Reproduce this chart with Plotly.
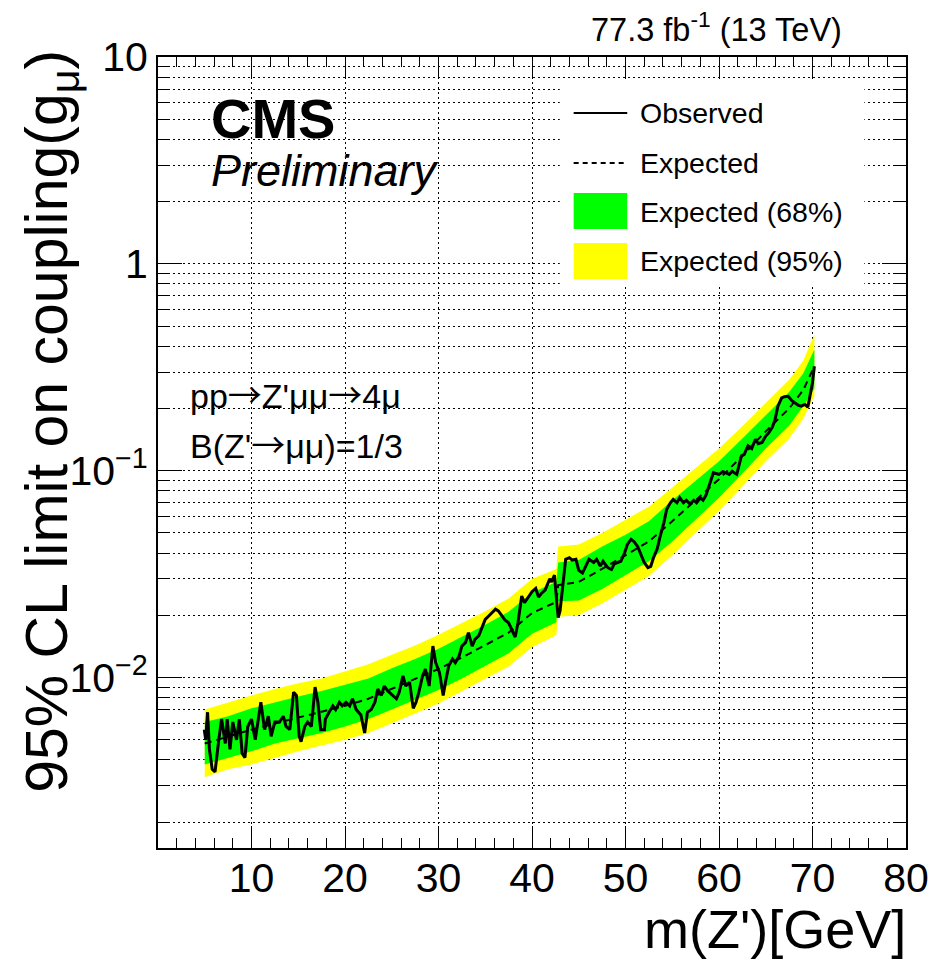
import plotly.graph_objects as go

# ---------------- data ----------------
band_mass = [5, 7.5, 10, 12.5, 15, 17.5, 20, 22.5, 25, 27.5, 30, 32.5, 35, 37.5, 40,
             42.6, 42.8, 45, 47.5, 50, 52.5, 55, 57.5, 60, 62.5, 65, 67.5, 69, 70.2]
expected = [0.0048, 0.0052, 0.0056, 0.0060, 0.0064, 0.0068, 0.0073, 0.0079, 0.0088, 0.0098,
            0.0110, 0.0125, 0.0143, 0.0165, 0.0205, 0.0232, 0.0280, 0.0290, 0.0335, 0.0390,
            0.0455, 0.0570, 0.0720, 0.0910, 0.118, 0.155, 0.200, 0.245, 0.320]
exp_95_hi = [0.0070, 0.0076, 0.0082, 0.0088, 0.0094, 0.0099, 0.0107, 0.0116, 0.0129, 0.0143,
             0.0161, 0.0183, 0.0209, 0.0241, 0.0300, 0.0335, 0.0430, 0.0440, 0.050, 0.058,
             0.067, 0.083, 0.103, 0.128, 0.164, 0.213, 0.275, 0.34, 0.455]
exp_68_hi = [0.0061, 0.0065, 0.0071, 0.0076, 0.0081, 0.0086, 0.0092, 0.0099, 0.0111, 0.0123,
             0.0138, 0.0157, 0.0180, 0.0208, 0.0258, 0.0290, 0.0360, 0.0370, 0.043, 0.049,
             0.057, 0.072, 0.089, 0.111, 0.143, 0.186, 0.240, 0.295, 0.385]
exp_68_lo = [0.0038, 0.0041, 0.0044, 0.0048, 0.0051, 0.0054, 0.0058, 0.0063, 0.0070, 0.0078,
             0.0087, 0.0099, 0.0114, 0.0131, 0.0163, 0.0185, 0.0234, 0.0236, 0.0268, 0.0312,
             0.0365, 0.0455, 0.058, 0.074, 0.097, 0.128, 0.165, 0.205, 0.250]
exp_95_lo = [0.0033, 0.0036, 0.0038, 0.0041, 0.0044, 0.0047, 0.0050, 0.0054, 0.0060, 0.0067,
             0.0075, 0.0086, 0.0098, 0.0113, 0.0140, 0.0160, 0.0197, 0.0200, 0.0228, 0.0266,
             0.0310, 0.0390, 0.050, 0.064, 0.084, 0.111, 0.143, 0.178, 0.230]

obs_mass = [4.95, 5.1, 5.3, 5.5, 5.8, 6.1, 6.5, 6.8, 7.2, 7.4, 7.7, 8.0, 8.4, 8.7, 9.0, 9.3,
            9.6, 10.0, 10.4, 10.7, 11.0, 11.4, 11.8, 12.1, 12.5, 13.0, 13.4, 13.7, 14.1, 14.5,
            14.8, 15.1, 15.3, 15.7, 16.0, 16.4, 16.8, 17.1, 17.4, 17.8, 17.9, 18.3, 18.7, 19.0,
            19.4, 19.7, 20.1, 20.5, 20.8, 21.2, 21.7, 22.1, 22.4, 22.8, 23.2, 23.5, 23.9, 24.2,
            24.6, 25.1, 25.5, 25.8, 26.2, 26.5, 26.9, 27.3, 27.6, 27.9, 28.3, 28.6, 29.0, 29.4,
            29.7, 30.1, 30.5, 30.8, 31.1, 31.5, 31.8, 32.2, 32.5, 32.9, 33.2, 33.6, 33.9, 34.3,
            34.7, 35.0, 35.4, 35.7, 36.1, 36.4, 36.8, 37.1, 37.5, 37.8, 38.2, 38.5, 38.9, 39.2,
            39.5, 40.0, 40.4, 40.7, 41.0, 41.4, 41.9, 42.1, 42.4, 42.6, 42.8, 43.0, 43.3, 43.6,
            44.0, 44.3, 44.7, 45.0, 45.4, 45.7, 46.1, 46.6, 46.9, 47.3, 47.6, 48.1, 48.5, 48.8,
            49.2, 49.5, 49.9, 50.2, 50.6, 50.9, 51.3, 51.6, 52.0, 52.4, 52.7, 53.0, 53.4, 53.7,
            54.1, 54.4, 54.8, 55.1, 55.5, 55.8, 56.2, 56.5, 56.9, 57.3, 57.6, 58.0, 58.3, 58.6,
            58.9, 59.4, 60.0, 60.4, 60.7, 61.1, 61.4, 61.9, 62.4, 62.7, 63.1, 63.5, 63.9, 64.2,
            64.6, 65.0, 65.3, 65.7, 66.0, 66.3, 66.7, 67.0, 67.4, 67.8, 68.1, 68.5, 68.8, 69.2,
            69.5, 69.8, 70.0, 70.2]
observed = [0.0056, 0.0050, 0.0068, 0.0045, 0.0036, 0.0035, 0.0050, 0.0063, 0.0048, 0.0063,
            0.0045, 0.0061, 0.0050, 0.0063, 0.0043, 0.0041, 0.0058, 0.0063, 0.0050, 0.0061,
            0.0076, 0.0056, 0.0065, 0.0052, 0.0061, 0.0061, 0.0065, 0.0058, 0.0056, 0.0085,
            0.0082, 0.0052, 0.0049, 0.0058, 0.0061, 0.0058, 0.0090, 0.0076, 0.0056, 0.0056,
            0.0063, 0.0068, 0.0073, 0.0070, 0.0076, 0.0073, 0.0076, 0.0073, 0.0079, 0.0070,
            0.0066, 0.0054, 0.0068, 0.0070, 0.0076, 0.0088, 0.0082, 0.0091, 0.0086, 0.0082,
            0.0079, 0.0085, 0.0102, 0.0091, 0.0095, 0.0071, 0.0076, 0.0085, 0.0102, 0.0110,
            0.0091, 0.0142, 0.0118, 0.0106, 0.0082, 0.0098, 0.0114, 0.0123, 0.0118, 0.0127,
            0.0142, 0.0148, 0.0165, 0.0142, 0.0153, 0.0159, 0.0177, 0.0191, 0.0199, 0.0206,
            0.0214, 0.0210, 0.0199, 0.0190, 0.0184, 0.0171, 0.0157, 0.0184, 0.0248, 0.0230,
            0.0240, 0.0260, 0.0270, 0.0245, 0.0255, 0.0265, 0.0300, 0.0290, 0.0313, 0.0250,
            0.0195, 0.0210, 0.0290, 0.0373, 0.0380, 0.0370, 0.0373, 0.0330, 0.0320, 0.0340,
            0.0373, 0.0360, 0.0373, 0.0346, 0.0365, 0.0340, 0.0333, 0.0355, 0.0360, 0.0365,
            0.0400, 0.0440, 0.0466, 0.0455, 0.0430, 0.0400, 0.0360, 0.0340, 0.0345, 0.0380,
            0.0420, 0.0480, 0.0560, 0.0650, 0.0700, 0.0726, 0.0700, 0.0740, 0.0700, 0.0720,
            0.0690, 0.0720, 0.0700, 0.0740, 0.0720, 0.0760, 0.0843, 0.0978, 0.0960, 0.0990,
            0.0978, 0.0960, 0.0995, 0.0960, 0.118, 0.120, 0.132, 0.128, 0.142, 0.135,
            0.137, 0.147, 0.152, 0.162, 0.177, 0.205, 0.225, 0.228, 0.229, 0.218,
            0.213, 0.207, 0.205, 0.209, 0.203, 0.240, 0.266, 0.320]

x_tick_values = [10, 20, 30, 40, 50, 60, 70, 80]
x_tick_labels = ["10", "20", "30", "40", "50", "60", "70", "80"]
y_tick_values = [0.01, 0.1, 1, 10]
y_tick_labels = ["10<sup>\u22122</sup>", "10<sup>\u22121</sup>", "1", "10"]

# ---------------- figure ----------------
FONT = "Liberation Sans, Arial, Helvetica, sans-serif"
W, H = 941, 960
ML, MR, MT, MB = 158, 29, 57, 112
PW, PH = W - ML - MR, H - MT - MB
GRID_DASH = "2px,3px"


def px_x(p):
    return (p - ML) / PW


def px_y(p):
    return (H - MB - p) / PH


fig = go.Figure()
fig.add_trace(go.Scatter(x=band_mass, y=exp_95_hi, mode="lines", line=dict(width=0, color="#ffff00"),
                         showlegend=False, hoverinfo="skip"))
fig.add_trace(go.Scatter(x=band_mass, y=exp_95_lo, mode="lines", line=dict(width=0, color="#ffff00"),
                         fill="tonexty", fillcolor="#ffff00", name="Expected (95%)",
                         showlegend=False, hoverinfo="skip"))
fig.add_trace(go.Scatter(x=band_mass, y=exp_68_hi, mode="lines", line=dict(width=0, color="#00ff00"),
                         showlegend=False, hoverinfo="skip"))
fig.add_trace(go.Scatter(x=band_mass, y=exp_68_lo, mode="lines", line=dict(width=0, color="#00ff00"),
                         fill="tonexty", fillcolor="#00ff00", name="Expected (68%)",
                         showlegend=False, hoverinfo="skip"))
fig.add_trace(go.Scatter(x=band_mass, y=expected, mode="lines", name="Expected",
                         line=dict(color="black", width=2, dash="7px,5px"), showlegend=False))
fig.add_trace(go.Scatter(x=obs_mass, y=observed, mode="lines", name="Observed",
                         line=dict(color="black", width=3), showlegend=False))

minor_y = [m * 10.0 ** k for k in range(-3, 1) for m in range(2, 10)]

fig.update_xaxes(
    range=[0, 80], tickmode="array", tickvals=x_tick_values, ticktext=x_tick_labels,
    ticks="inside", ticklen=22, tickwidth=1.2, tickcolor="black",
    showline=True, linewidth=2, linecolor="black", mirror="allticks",
    showgrid=True, gridcolor="black", gridwidth=1, griddash=GRID_DASH,
    minor=dict(dtick=2, tick0=0, ticks="inside", ticklen=10, tickwidth=1.2, tickcolor="black", showgrid=False),
    tickfont=dict(family=FONT, size=41, color="black"), zeroline=False, ticklabelstandoff=-7,
)
fig.update_yaxes(
    type="log", range=[-2.8239, 1], tickmode="array", tickvals=y_tick_values, ticktext=y_tick_labels,
    ticks="inside", ticklen=24, tickwidth=1.2, tickcolor="black",
    showline=True, linewidth=2, linecolor="black", mirror="allticks",
    showgrid=True, gridcolor="black", gridwidth=1, griddash=GRID_DASH,
    minor=dict(tickmode="array", tickvals=minor_y, ticks="inside", ticklen=12, tickwidth=1.2,
               tickcolor="black", showgrid=True, gridcolor="black", gridwidth=1, griddash=GRID_DASH),
    tickfont=dict(family=FONT, size=41, color="black"), zeroline=False,
)

shapes = []
# legend background
shapes.append(dict(type="rect", xref="paper", yref="paper", x0=px_x(563), x1=px_x(870),
                   y0=px_y(287), y1=px_y(82), fillcolor="white", line=dict(width=0), layer="above"))
shapes.append(dict(type="line", xref="paper", yref="paper", x0=px_x(577), x1=px_x(631),
                   y0=px_y(113), y1=px_y(113), line=dict(color="black", width=2.2), layer="above"))
shapes.append(dict(type="line", xref="paper", yref="paper", x0=px_x(577), x1=px_x(631),
                   y0=px_y(163), y1=px_y(163), line=dict(color="black", width=2, dash="5px,4px"),
                   layer="above"))
shapes.append(dict(type="rect", xref="paper", yref="paper", x0=px_x(577), x1=px_x(631),
                   y0=px_y(229), y1=px_y(193), fillcolor="#00ff00", line=dict(width=0), layer="above"))
shapes.append(dict(type="rect", xref="paper", yref="paper", x0=px_x(577), x1=px_x(631),
                   y0=px_y(279), y1=px_y(243), fillcolor="#ffff00", line=dict(width=0), layer="above"))

legend_texts = [("Observed", 113), ("Expected", 163), ("Expected (68%)", 212), ("Expected (95%)", 261)]
annotations = []
for txt, py in legend_texts:
    annotations.append(dict(text=txt, xref="paper", yref="paper", x=px_x(642), y=px_y(py),
                            xanchor="left", yanchor="middle", showarrow=False,
                            font=dict(family=FONT, size=28.5, color="black")))

ARROW = "<span style='font-family:Noto Sans CJK JP'>\u2192</span>"
annotations += [
    dict(text="<b>CMS</b>", xref="paper", yref="paper", x=px_x(209), y=px_y(118),
         xanchor="left", yanchor="middle", showarrow=False, font=dict(family=FONT, size=56, color="black")),
    dict(text="<i>Preliminary</i>", xref="paper", yref="paper", x=px_x(209), y=px_y(170),
         xanchor="left", yanchor="middle", showarrow=False, font=dict(family=FONT, size=45, color="black")),
    dict(text="pp" + ARROW + "Z'\u03bc\u03bc" + ARROW + "4\u03bc", xref="paper", yref="paper",
         x=px_x(188), y=px_y(393),
         xanchor="left", yanchor="middle", showarrow=False, font=dict(family=FONT, size=34, color="black")),
    dict(text="B(Z'" + ARROW + "\u03bc\u03bc)=1/3", xref="paper", yref="paper", x=px_x(188), y=px_y(443),
         xanchor="left", yanchor="middle", showarrow=False, font=dict(family=FONT, size=34, color="black")),
    dict(text="77.3 fb<sup>-1</sup> (13 TeV)", xref="paper", yref="paper", x=px_x(850), y=px_y(27),
         xanchor="right", yanchor="middle", showarrow=False, font=dict(family=FONT, size=32.5, color="black")),
    dict(text="m(Z')[GeV]", xref="paper", yref="paper", x=px_x(914), y=px_y(929),
         xanchor="right", yanchor="middle", showarrow=False, font=dict(family=FONT, size=54, color="black")),
    dict(text="95% CL limit on coupling(g<sub>\u03bc</sub>)", xref="paper", yref="paper",
         x=px_x(50), y=px_y(421), textangle=-90,
         xanchor="center", yanchor="middle", showarrow=False, font=dict(family=FONT, size=59, color="black")),
]

fig.update_layout(
    width=W, height=H, margin=dict(l=ML, r=MR, t=MT, b=MB, pad=0),
    paper_bgcolor="white", plot_bgcolor="white", showlegend=False,
    shapes=shapes, annotations=annotations,
    font=dict(family=FONT, color="black"),
)

fig.write_html("out.html")
